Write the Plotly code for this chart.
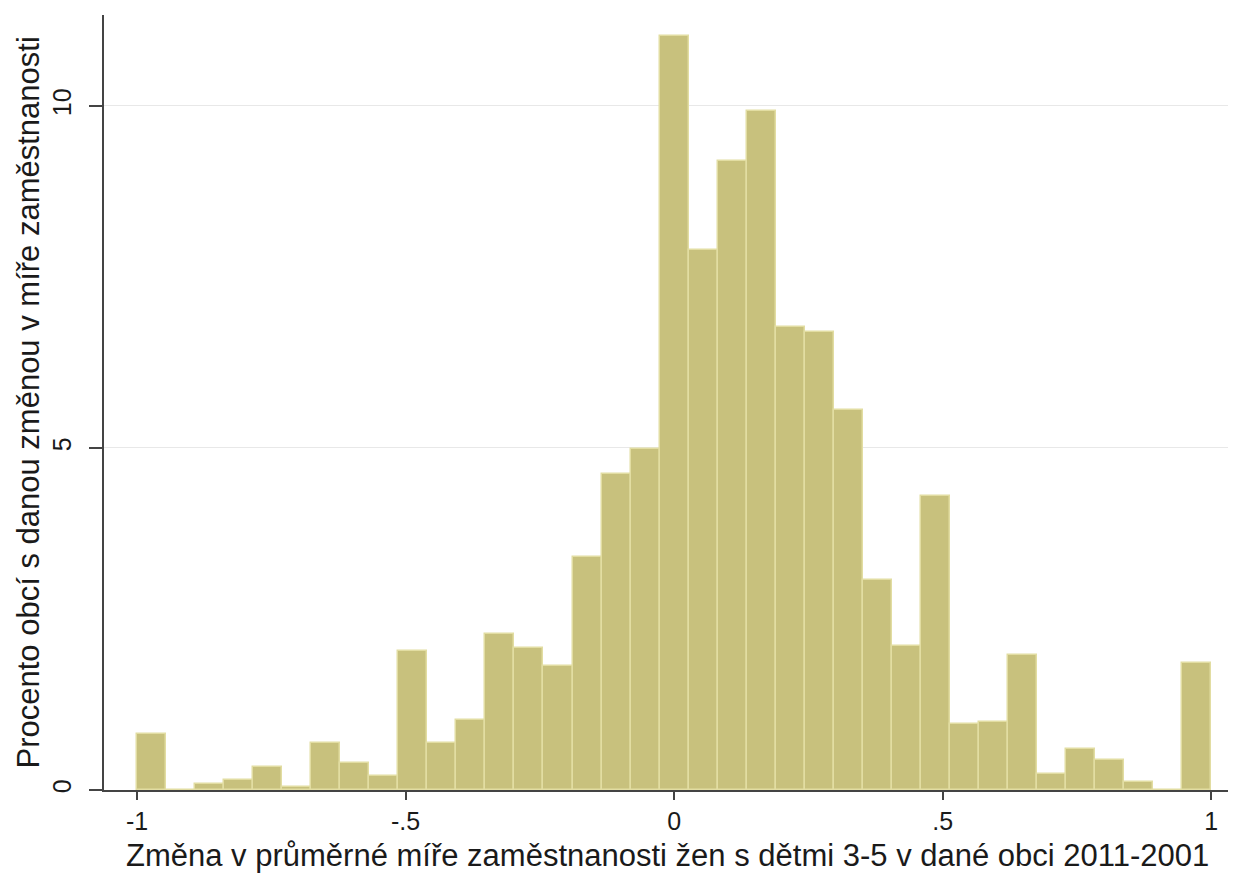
import plotly.graph_objects as go

# Histogram: 37 equal bins from -1 to 1
bin_start = -1.0
bin_end = 1.0
n_bins = 37
percent = [0.82, 0.0, 0.09, 0.14, 0.34, 0.04, 0.68, 0.39, 0.21, 2.03,
           0.68, 1.03, 2.28, 2.07, 1.82, 3.41, 4.62, 4.98, 11.03, 7.89,
           9.19, 9.92, 6.77, 6.70, 5.56, 3.07, 2.10, 4.30, 0.96, 1.00,
           1.98, 0.24, 0.60, 0.44, 0.11, 0.0, 1.85]
x_tickvals = [-1, -0.5, 0, 0.5, 1]
x_ticktext = ["-1", "-.5", "0", ".5", "1"]
y_tickvals = [0, 5, 10]
y_ticktext = ["0", "5", "10"]
x_title = "Změna v průměrné míře zaměstnanosti žen s dětmi 3-5 v dané obci 2011-2001"
y_title = "Procento obcí s danou změnou v míře zaměstnanosti"

bw = (bin_end - bin_start) / n_bins
centers = [bin_start + (i + 0.5) * bw for i in range(n_bins)]

fig = go.Figure(go.Bar(
    x=centers, y=percent, width=bw,
    marker=dict(color="#C8C17D", line=dict(color="#E2DDA2", width=1.5)),
))

font = "Liberation Sans, Arial, sans-serif"
# page body has an 8px margin, so the figure is drawn 8px smaller
fig.update_layout(
    width=1228, height=869,
    margin=dict(l=96, r=6, t=7, b=87),
    paper_bgcolor="white", plot_bgcolor="white",
    bargap=0, showlegend=False,
    font=dict(family=font, color="#1a1a1a", size=25),
    annotations=[
        dict(text=x_title, xref="paper", yref="paper", x=0.5, y=0,
             xanchor="center", yanchor="middle", yshift=-65,
             showarrow=False, font=dict(size=31)),
        dict(text=y_title, xref="paper", yref="paper", x=0, y=0.5,
             xanchor="center", yanchor="middle", xshift=-76, textangle=-90,
             showarrow=False, font=dict(size=31)),
    ],
)
fig.update_xaxes(
    range=[-1.0615, 1.035], automargin=False,
    tickvals=x_tickvals, ticktext=x_ticktext,
    ticks="outside", ticklen=8, tickwidth=1.5, tickcolor="#444",
    showline=True, linecolor="#444", linewidth=1.5,
    showgrid=False, zeroline=False,
    tickfont=dict(size=25),
)
fig.update_yaxes(
    range=[0, 11.33], automargin=False,
    tickvals=y_tickvals, ticktext=y_ticktext, tickangle=-90,
    ticks="outside", ticklen=13, tickwidth=1.5, tickcolor="#444",
    ticklabelstandoff=8,
    showline=True, linecolor="#444", linewidth=1.5,
    showgrid=True, gridcolor="#e8e8e8", gridwidth=1, zeroline=False,
    tickfont=dict(size=25),
)

fig.write_html("out.html")
